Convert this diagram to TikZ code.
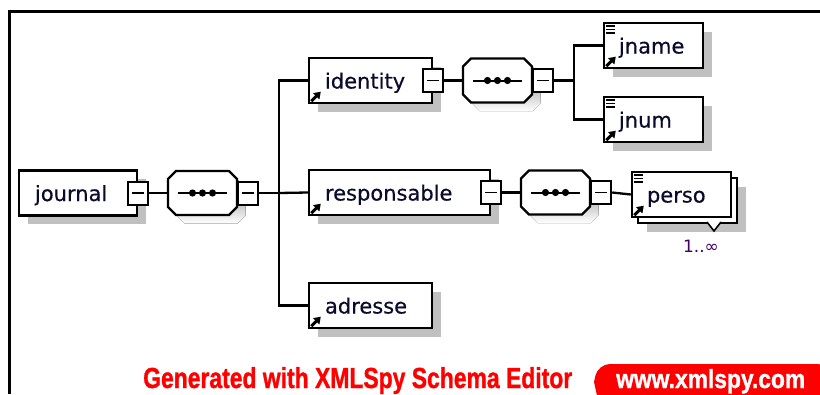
\documentclass[tikz,border=0pt]{standalone}
\usepackage{fontspec}
\setmainfont{DejaVu Sans}
\newfontfamily\labelfont[FakeBold=0.45]{DejaVu Sans}
\newfontfamily\footfont[FakeBold=1.2]{Liberation Sans}
\usetikzlibrary{shadows,arrows.meta}

\definecolor{inktext}{HTML}{0A0A2C}
\definecolor{occurs}{HTML}{400060}
\definecolor{shade}{HTML}{C0C0C0}
\definecolor{brandred}{HTML}{FF0000}

\tikzset{
  x=1pt, y=-1pt,
  shadowed/.style={general shadow={fill=shade, shadow xshift=8.5pt, shadow yshift=-8.5pt}},
  elbox/.style={draw, fill=white, line width=2.4pt, minimum height=45pt, inner sep=0pt, shadowed},
  plainbox/.style={draw, fill=white, line width=2.4pt, minimum height=45pt, inner sep=0pt},
  seqframe/.style={minimum width=69pt, minimum height=44pt, inner sep=0pt},
  minusbox/.style={draw, fill=white, line width=2pt, minimum width=20pt, minimum height=23pt, inner sep=0pt,
    path picture={
      \draw[line width=1.6pt] ([xshift=4pt]path picture bounding box.west) -- ([xshift=-4pt]path picture bounding box.east);
    }},
  wire/.style={line width=2.3pt},
  lbl/.style={anchor=base west, inner sep=0pt, text=inktext, font=\labelfont\fontsize{21}{24}\selectfont},
  refarrow/.style={line width=3pt, -{Triangle[length=6.5pt,width=8.5pt]}},
  doclines/.style={line width=1.5pt}
}

% octagon (69 x 44, corners cut by 8) centred on (#1,#2)
\newcommand{\octpath}[2]{(#1-26.5,#2-22) -- (#1+26.5,#2-22) -- (#1+34.5,#2-14) -- (#1+34.5,#2+14)
  -- (#1+26.5,#2+22) -- (#1-26.5,#2+22) -- (#1-34.5,#2+14) -- (#1-34.5,#2-14) -- cycle}
% sequence compositor: node #1 centred on (#2,#3)
\newcommand{\seqshape}[3]{%
  \fill[shade] \octpath{#2+8.5}{#3+8.5};
  \draw[line width=2.4pt, fill=white] \octpath{#2}{#3};
  \node[seqframe] (#1) at (#2,#3) {};
  \draw[line width=2pt] ([shift={(10,0)}]#1.west) -- ([shift={(-10,0)}]#1.east);
  \foreach \dx in {-10,0,10} \fill ([shift={(\dx,0)}]#1.center) circle (3.6pt);}
% small marks drawn in element boxes
\newcommand{\reflink}[1]{\draw[refarrow] ([shift={(3.5,-3)}]#1.south west) -- ++(9.5,-9.5);}
\newcommand{\docmark}[1]{\foreach \dy in {4,7.5,11}
  \draw[doclines] ([shift={(3,\dy)}]#1.north west) -- ++(9,0);}

\begin{document}
\begin{tikzpicture}
\useasboundingbox (0,0) rectangle (820,394);
\fill[white] (0,0) rectangle (820,394);

% frame
\draw[line width=3pt] (9,394) -- (9,11) -- (820,11);

% root element and its sequence
\node[elbox, minimum width=118pt] (journal) at (78,193) {};
\node[lbl] (journalt) at ([shift={(17,8)}]journal.west) {journal};
\node[minusbox] (journalm) at (journal.east) {};

\seqshape{seqa}{202.5}{193}
\node[minusbox, anchor=west] (seqam) at (seqa.east) {};
\coordinate (busa) at (279,193);

% children of the root
\node[elbox, minimum width=123pt] (identity) at (370.5,80.5) {};
\node[lbl] (identityt) at ([shift={(17,8)}]identity.west) {identity};
\node[minusbox] (identitym) at (identity.east) {};

\node[elbox, minimum width=181pt] (resp) at (399.5,192.5) {};
\node[lbl] (respt) at ([shift={(17,8)}]resp.west) {responsable};
\node[minusbox] (respm) at (resp.east) {};

\node[elbox, minimum width=123pt] (adresse) at (370.5,305.5) {};
\node[lbl] (adresset) at ([shift={(17,8)}]adresse.west) {adresse};

% sequence under identity
\seqshape{seqb}{497.5}{80.5}
\node[minusbox, anchor=west] (seqbm) at (seqb.east) {};
\coordinate (busb) at (574,80.5);

\node[elbox, minimum width=99pt] (jname) at (653.5,45.5) {};
\node[lbl] (jnamet) at ([shift={(16,8)}]jname.west) {jname};

\node[elbox, minimum width=99pt] (jnum) at (653.5,119.5) {};
\node[lbl] (jnumt) at ([shift={(16,8)}]jnum.west) {jnum};

% sequence under responsable
\seqshape{seqc}{555.5}{192.5}
\node[minusbox, anchor=west] (seqcm) at (seqc.east) {};

% repeated element perso
\node[elbox, minimum width=99pt] (persoback) at (687.5,200.5) {};
\node[plainbox, minimum width=99pt] (perso) at (681.5,194.5) {};
\node[lbl] (persot) at ([shift={(16,8)}]perso.west) {perso};
\draw[line width=1.6pt, fill=white] (707,222) -- (714,231) -- (721,222);
\node[anchor=base, inner sep=0pt, text=occurs, font=\fontsize{17}{20}\selectfont] (persooccurs) at (701,252) {1..∞};

% marks inside the boxes
\reflink{identity}
\reflink{resp}
\reflink{adresse}
\reflink{jname}
\reflink{jnum}
\reflink{perso}
\docmark{jname}
\docmark{jnum}
\docmark{perso}

% connectors
\draw[wire] (journalm.east) -- (seqa.west);
\draw[wire] (seqam.east) -- (busa);
\draw[wire] (busa) |- (identity.west);
\draw[wire] (busa) |- (adresse.west);
\draw[wire] (busa) -- (resp.west);
\draw[wire] (identitym.east) -- (seqb.west);
\draw[wire] (seqbm.east) -- (busb);
\draw[wire] (busb) |- (jname.west);
\draw[wire] (busb) |- (jnum.west);
\draw[wire] (respm.east) -- (seqc.west);
\draw[wire] (seqcm.east) -- (perso.west);

% footer banner
\node[anchor=base west, inner sep=0pt, text=brandred] (gen) at (143,388)
  {\resizebox{429pt}{21pt}{\footfont\bfseries Generated with XMLSpy Schema Editor}};
\fill[brandred] (598,400) -- (594,382) [rounded corners=12pt] -- (598,364) -- (830,364) [sharp corners] -- (830,400) -- cycle;
\node[anchor=base west, inner sep=0pt, text=white] (site) at (616,388)
  {\resizebox{189pt}{19pt}{\footfont\bfseries www.xmlspy.com}};
\end{tikzpicture}
\end{document}
